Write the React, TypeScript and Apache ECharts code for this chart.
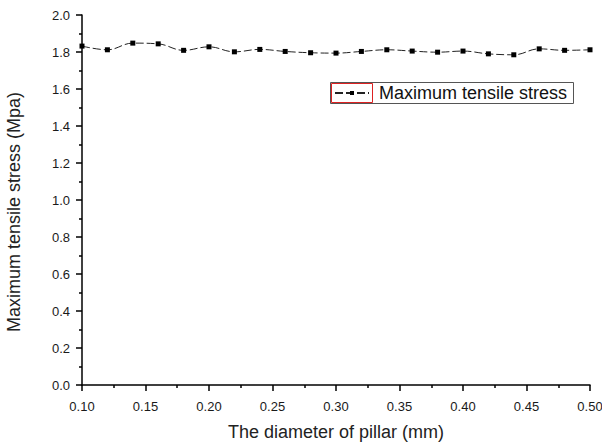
import React, { useEffect, useRef } from "react";
import * as echarts from "echarts";

const xValues = [0.10, 0.12, 0.14, 0.16, 0.18, 0.20, 0.22, 0.24, 0.26, 0.28, 0.30, 0.32, 0.34, 0.36, 0.38, 0.40, 0.42, 0.44, 0.46, 0.48, 0.50];
const stress = [1.832, 1.812, 1.848, 1.844, 1.809, 1.828, 1.801, 1.814, 1.803, 1.796, 1.794, 1.803, 1.812, 1.805, 1.799, 1.805, 1.790, 1.785, 1.817, 1.809, 1.812];
const seriesName = "Maximum tensile stress";
const xTitle = "The diameter of pillar (mm)";
const yTitle = "Maximum tensile stress (Mpa)";

export default function App() {
  const ref = useRef<HTMLDivElement>(null);
  useEffect(() => {
    if (!ref.current) return;
    const chart = echarts.init(ref.current, null, { renderer: "svg" });
    const font = "'Liberation Sans', Arial, sans-serif";
    chart.setOption({
      animation: false,
      backgroundColor: "#fff",
      textStyle: { fontFamily: font },
      grid: { left: 82, right: 12, top: 15, bottom: 63, containLabel: false, outerBoundsMode: "none" },
      xAxis: {
        type: "value",
        min: 0.1,
        max: 0.5,
        interval: 0.05,
        name: xTitle,
        nameLocation: "middle",
        nameGap: 38,
        nameTextStyle: { fontSize: 18, color: "#222", fontFamily: font },
        axisLine: { show: true, onZero: false, lineStyle: { color: "#000", width: 1.5 } },
        axisTick: { show: true, inside: false, length: 6, lineStyle: { color: "#000", width: 1.5 } },
        minorTick: { show: true, splitNumber: 2, length: 3, lineStyle: { color: "#000", width: 1.5 } },
        splitLine: { show: false },
        axisLabel: { fontSize: 13, color: "#1a1a1a", margin: 15, fontFamily: font, formatter: (v: number) => v.toFixed(2) },
      },
      yAxis: {
        type: "value",
        min: 0,
        max: 2,
        interval: 0.2,
        name: yTitle,
        nameLocation: "middle",
        nameGap: 59,
        nameTextStyle: { fontSize: 18, color: "#222", fontFamily: font, padding: [0, 24, 0, 0] },
        axisLine: { show: true, lineStyle: { color: "#000", width: 1.5 } },
        axisTick: { show: true, inside: false, length: 6, lineStyle: { color: "#000", width: 1.5 } },
        minorTick: { show: true, splitNumber: 2, length: 3, lineStyle: { color: "#000", width: 1.5 } },
        splitLine: { show: false },
        axisLabel: { fontSize: 13, color: "#1a1a1a", margin: 12, fontFamily: font, formatter: (v: number) => v.toFixed(1) },
      },
      legend: {
        show: true,
        left: 334,
        top: 84,
        itemWidth: 34,
        itemHeight: 5,
        itemGap: 0,
        padding: 0,
        textStyle: { fontSize: 18, color: "#111", fontFamily: font, padding: [0, 0, 0, 5] },
        data: [{ name: seriesName }],
      },
      graphic: [
        { type: "rect", shape: { x: 330.5, y: 82.5, width: 243, height: 21 }, style: { fill: "none", stroke: "#555", lineWidth: 1 }, z: 10 },
        { type: "rect", shape: { x: 331.5, y: 83.5, width: 41, height: 19 }, style: { fill: "none", stroke: "#d22", lineWidth: 1 }, z: 10 },
      ],
      series: [
        {
          name: seriesName,
          type: "line",
          smooth: 0.4,
          data: xValues.map((x, i) => [x, stress[i]]),
          symbol: "rect",
          symbolSize: 5,
          itemStyle: { color: "#000" },
          lineStyle: { color: "#222", width: 1, type: [8, 3] },
        },
      ],
    });
    return () => chart.dispose();
  }, []);
  return <div ref={ref} style={{ position: "fixed", left: 0, top: 0, width: 602, height: 448 }} />;
}
